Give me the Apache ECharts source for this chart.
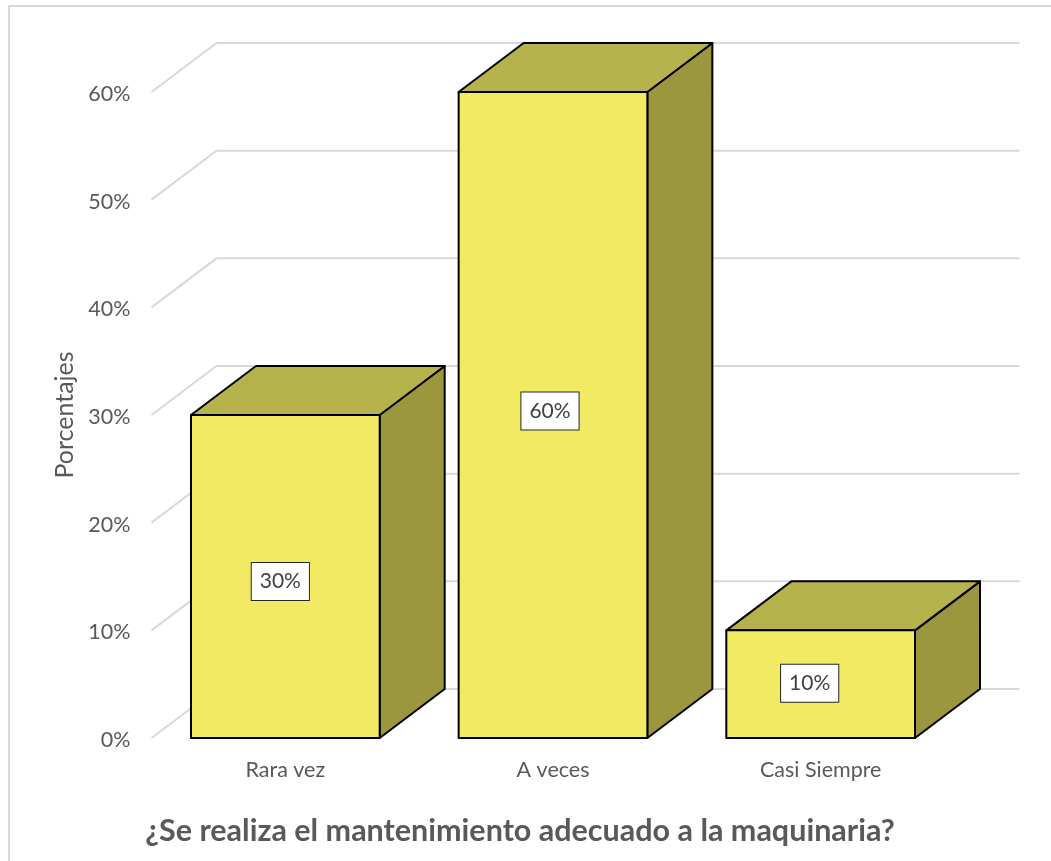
<!DOCTYPE html>
<html>
<head>
<meta charset="utf-8">
<style>html,body{margin:0;padding:0;background:#fff}#c{width:1051px;height:861px}</style>
<script src="https://cdn.jsdelivr.net/npm/echarts@6/dist/echarts.min.js"></script>
</head>
<body>
<div id="c"></div>
<script>
const categories = ['Rara vez', 'A veces', 'Casi Siempre'];
const values = [30, 60, 10];
const gridValues = [0, 10, 20, 30, 40, 50, 60];
const chartTitle = '¿Se realiza el mantenimiento adecuado a la maquinaria?';
const yAxisTitle = 'Porcentajes';

const depthX = 65, depthY = -49, barRatio = 0.705;
const labelShift = [[-5, 5], [-3, -4], [-11, -1]];
const FONT = 'Lato';
const TXT = '#595959';

const chart = echarts.init(document.getElementById('c'), null, {renderer: 'canvas'});

function renderGrid(params, api) {
  const cs = params.coordSys;
  const y = api.coord([0, api.value(1)])[1];
  const style = {stroke: '#D9D9D9', lineWidth: 2, fill: 'none'};
  return {
    type: 'polyline',
    shape: {points: [[cs.x, y], [cs.x + depthX, y + depthY], [cs.x + cs.width + depthX, y + depthY]]},
    style: style,
    silent: true
  };
}

function renderBar(params, api) {
  const i = api.value(0), v = api.value(1);
  const top = api.coord([i, v]), base = api.coord([i, 0]);
  const w = api.size([1, 0])[0] * barRatio;
  const x0 = top[0] - w / 2, x1 = top[0] + w / 2, yt = top[1], yb = base[1];
  const edge = {stroke: '#000', lineWidth: 2, lineJoin: 'round'};
  const poly = (pts, fill) => ({type: 'polygon', shape: {points: pts}, style: Object.assign({fill: fill}, edge)});
  const s = labelShift[params.dataIndex];
  return {
    type: 'group',
    children: [
      poly([[x1, yt], [x1 + depthX, yt + depthY], [x1 + depthX, yb + depthY], [x1, yb]], '#9C963F'),
      poly([[x0, yt], [x0 + depthX, yt + depthY], [x1 + depthX, yt + depthY], [x1, yt]], '#B7B34C'),
      poly([[x0, yt], [x1, yt], [x1, yb], [x0, yb]], '#F3EA64'),
      {
        type: 'text',
        x: top[0] + s[0], y: (yt + yb) / 2 + s[1],
        style: {
          text: v + '%', font: '21px ' + FONT, fill: '#404040',
          align: 'center', verticalAlign: 'middle',
          backgroundColor: '#fff', borderColor: '#262626', borderWidth: 1,
          padding: [8, 8, 8, 8]
        }
      }
    ]
  };
}

chart.setOption({
  animation: false,
  backgroundColor: '#fff',
  title: {
    text: chartTitle, left: 515, top: 811, textAlign: 'center',
    textStyle: {fontFamily: FONT, fontSize: 30.5, fontWeight: 'bold', color: TXT}
  },
  graphic: [{
    type: 'rect', z: -1, silent: true,
    shape: {x: 9, y: 6, width: 1200, height: 1000},
    style: {fill: 'none', stroke: '#D9D9D9', lineWidth: 2}
  }],
  grid: {left: 151.5, right: 96.5, top: 92, bottom: 123},
  xAxis: {
    type: 'category', data: categories,
    axisLine: {show: false}, axisTick: {show: false}, splitLine: {show: false},
    axisLabel: {margin: 21, fontFamily: FONT, fontSize: 21.5, color: TXT}
  },
  yAxis: {
    type: 'value', min: 0, max: 60, interval: 10,
    name: yAxisTitle, nameLocation: 'middle', nameGap: 74, nameRotate: 90,
    nameTextStyle: {fontFamily: FONT, fontSize: 25, color: TXT},
    axisLine: {show: false}, axisTick: {show: false}, splitLine: {show: false},
    axisLabel: {
      margin: 21, formatter: '{t|{value}%}',
      rich: {t: {fontFamily: FONT, fontSize: 21.5, color: TXT, padding: [4, 0, 0, 0]}}
    }
  },
  series: [
    {type: 'custom', z: 1, clip: false, renderItem: renderGrid,
     data: gridValues.map(v => [0, v]), encode: {x: 0, y: 1}, silent: true},
    {type: 'custom', z: 2, clip: false, renderItem: renderBar,
     data: values.map((v, i) => [i, v]), encode: {x: 0, y: 1}, silent: true}
  ]
});
</script>
</body>
</html>
